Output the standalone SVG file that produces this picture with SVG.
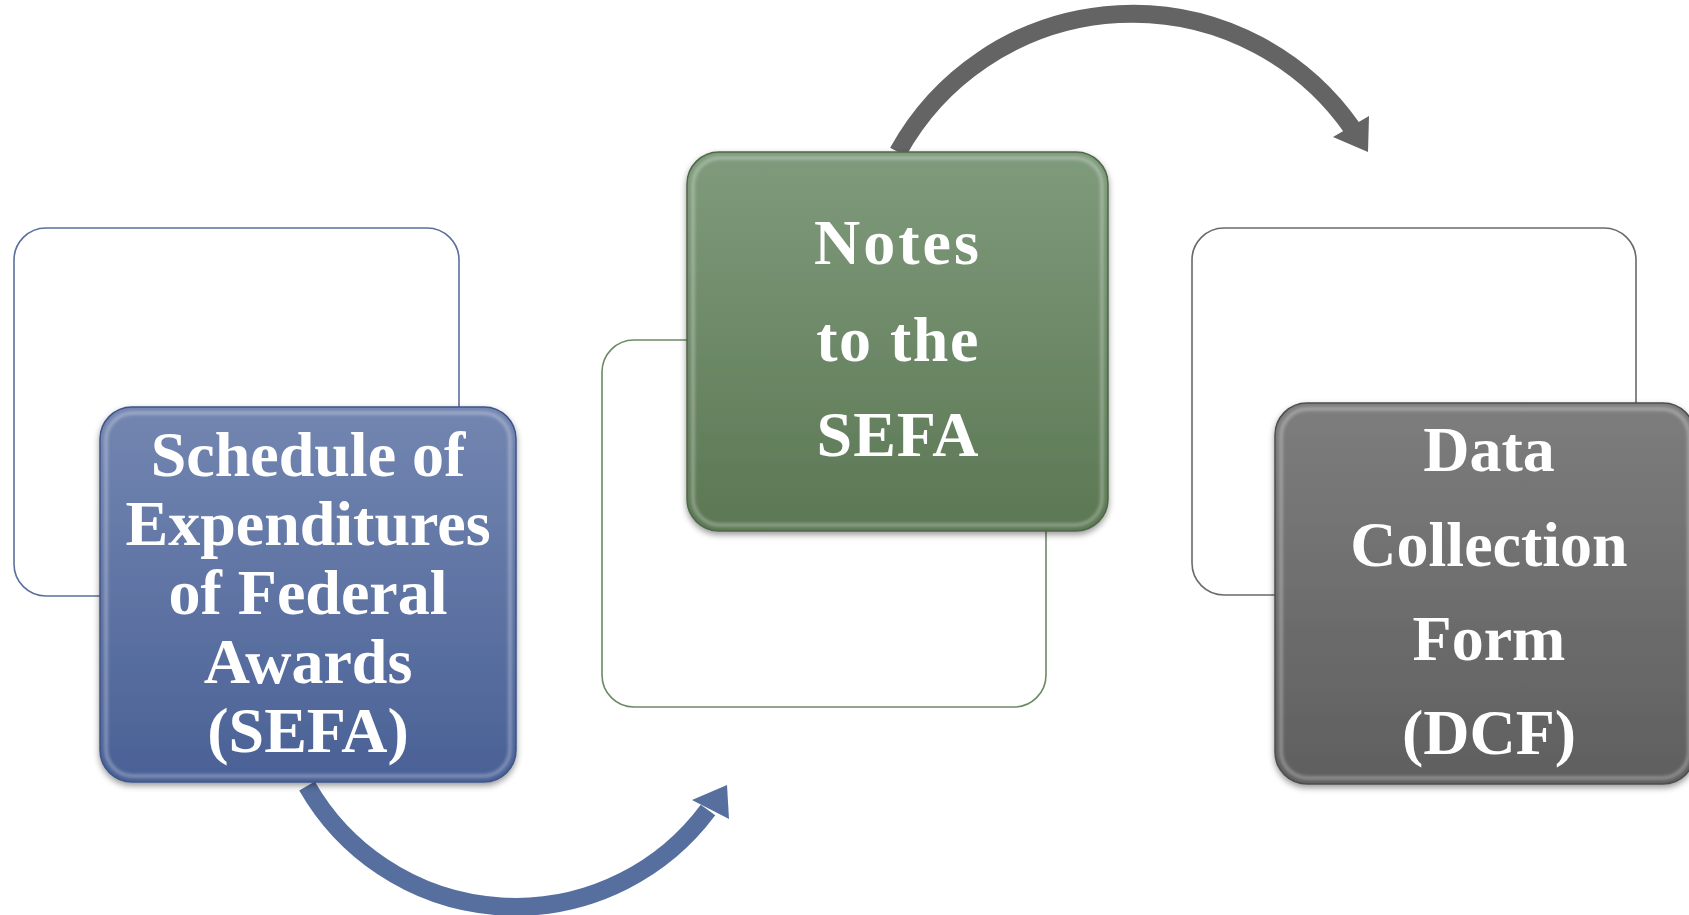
<svg xmlns="http://www.w3.org/2000/svg" width="1689" height="915" viewBox="0 0 1689 915">
  <style>
    .back { fill: #ffffff; stroke-width: 1.6; }
    .label { font-family: "Liberation Serif", "Times New Roman", serif; font-weight: bold; font-size: 64px; fill: #ffffff; text-anchor: middle; }
    .rim { fill: none; stroke: #ffffff; stroke-opacity: 0.28; stroke-width: 4; }
  </style>
  <defs>
    <linearGradient id="gBlue" x1="0" y1="0" x2="0" y2="1">
      <stop offset="0" stop-color="#7386b1"/>
      <stop offset="1" stop-color="#4a6196"/>
    </linearGradient>
    <linearGradient id="gGreen" x1="0" y1="0" x2="0" y2="1">
      <stop offset="0" stop-color="#7f9b7c"/>
      <stop offset="1" stop-color="#5b7753"/>
    </linearGradient>
    <linearGradient id="gGray" x1="0" y1="0" x2="0" y2="1">
      <stop offset="0" stop-color="#7d7d7d"/>
      <stop offset="1" stop-color="#5f5f5f"/>
    </linearGradient>
    <linearGradient id="backShade" x1="0" y1="0" x2="1" y2="0">
      <stop offset="0.9" stop-color="#ffffff"/>
      <stop offset="1" stop-color="#f0f0f0"/>
    </linearGradient>
    <filter id="shadow" x="-10%" y="-10%" width="120%" height="125%">
      <feDropShadow dx="0" dy="3" stdDeviation="3" flood-color="#000" flood-opacity="0.4"/>
    </filter>
    <filter id="soft" x="-5%" y="-5%" width="110%" height="110%">
      <feGaussianBlur stdDeviation="1.5"/>
    </filter>
  </defs>

  <rect width="1689" height="915" fill="#ffffff"/>

  <!-- connectors -->
  <g id="connectors">
    <path d="M307 786 A 240 240 0 0 0 708 810" fill="none" stroke="#566f9e" stroke-width="18"/>
    <polygon points="727,785 729,819 692,800" fill="#566f9e"/>
    <path d="M898 152 A 268 268 0 0 1 1352 128" fill="none" stroke="#646464" stroke-width="18"/>
    <polygon points="1368,152 1369,116 1333,137" fill="#646464"/>
  </g>

  <!-- step 1: SEFA -->
  <g id="node-sefa">
    <rect class="back" x="14" y="228" width="445" height="368" rx="32" stroke="#5c6f9c" fill="url(#backShade)"/>
    <g filter="url(#shadow)">
      <rect x="100" y="407" width="416" height="375" rx="32" fill="url(#gBlue)" stroke="#3f5587" stroke-width="1.5"/>
    </g>
    <rect class="rim" x="106" y="413" width="404" height="363" rx="27" filter="url(#soft)"/>
    <text class="label" x="308" y="476">Schedule of</text>
    <text class="label" x="308" y="545">Expenditures</text>
    <text class="label" x="308" y="614">of  Federal</text>
    <text class="label" x="308" y="683">Awards</text>
    <text class="label" x="308" y="752">(SEFA)</text>
  </g>

  <!-- step 2: Notes -->
  <g id="node-notes">
    <rect class="back" x="602" y="340" width="444" height="367" rx="32" stroke="#6d8967" fill="url(#backShade)"/>
    <g filter="url(#shadow)">
      <rect x="687" y="152" width="421" height="379" rx="32" fill="url(#gGreen)" stroke="#4f6748" stroke-width="1.5"/>
    </g>
    <rect class="rim" x="693" y="158" width="409" height="367" rx="27" filter="url(#soft)"/>
    <text class="label" x="898" y="264" letter-spacing="3">Notes</text>
    <text class="label" x="898" y="361" letter-spacing="1.5">to the</text>
    <text class="label" x="898" y="456" letter-spacing="1">SEFA</text>
  </g>

  <!-- step 3: DCF -->
  <g id="node-dcf">
    <rect class="back" x="1192" y="228" width="444" height="367" rx="32" stroke="#6a6a6a" fill="url(#backShade)"/>
    <g filter="url(#shadow)">
      <rect x="1275" y="403" width="420" height="381" rx="32" fill="url(#gGray)" stroke="#4e4e4e" stroke-width="1.5"/>
    </g>
    <rect class="rim" x="1281" y="409" width="408" height="369" rx="27" filter="url(#soft)"/>
    <text class="label" x="1489" y="471">Data</text>
    <text class="label" x="1489" y="566">Collection</text>
    <text class="label" x="1489" y="660">Form</text>
    <text class="label" x="1489" y="754">(DCF)</text>
  </g>
</svg>
